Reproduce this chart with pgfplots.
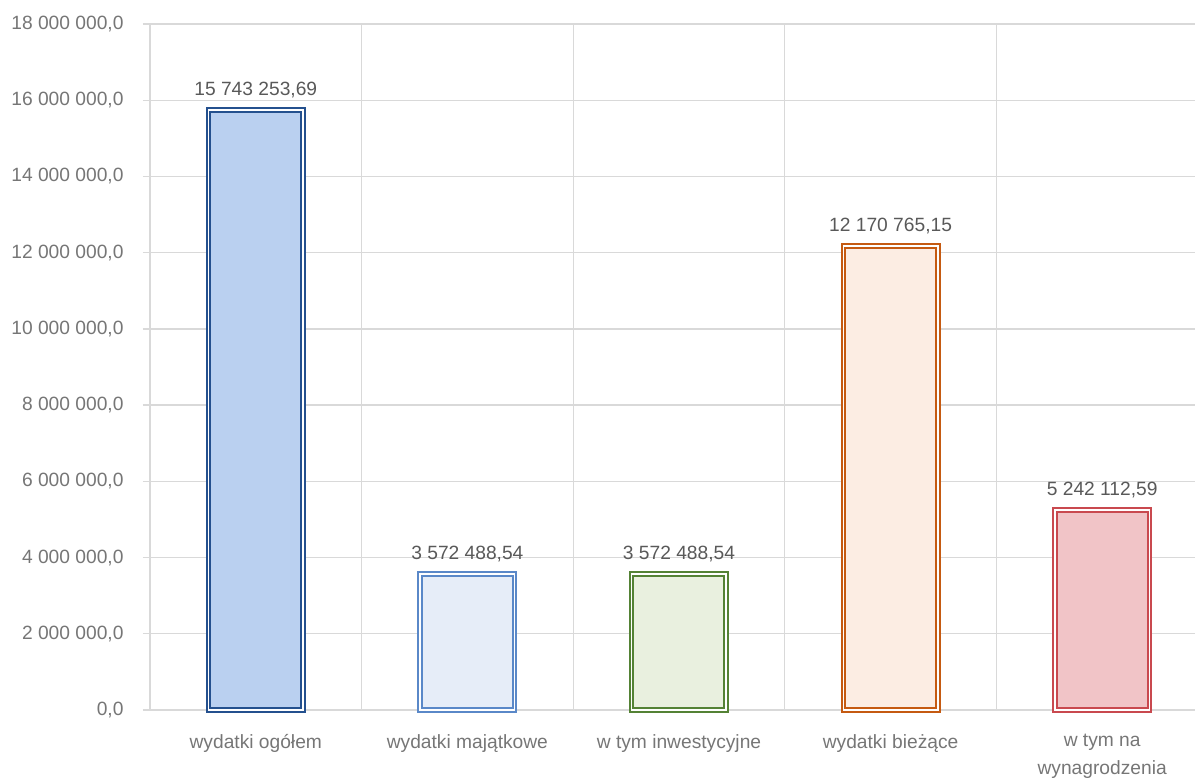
\documentclass[border=0pt]{standalone}
\usepackage{pgfplots}
\pgfplotsset{compat=1.18}
\usepackage{fontspec}
\setmainfont{Liberation Sans}
\definecolor{txt}{HTML}{595959}
\definecolor{tck}{HTML}{767676}
\definecolor{grd}{HTML}{D9D9D9}
\definecolor{c1}{HTML}{24508E}
\definecolor{f1}{HTML}{BAD0F0}
\definecolor{c2}{HTML}{5A88C8}
\definecolor{f2}{HTML}{E6EDF8}
\definecolor{c3}{HTML}{548235}
\definecolor{f3}{HTML}{E9F0DF}
\definecolor{c4}{HTML}{C55A11}
\definecolor{f4}{HTML}{FCEDE3}
\definecolor{c5}{HTML}{C9494F}
\definecolor{f5}{HTML}{F1C4C7}
\newcommand\lab{\fontsize{19.2bp}{28bp}\selectfont}
\begin{document}
\begin{tikzpicture}
\begin{axis}[
  scale only axis, width=1058bp, height=686bp,
  xmin=-0.5, xmax=4.5, ymin=0, ymax=18000000,
  axis lines=left, axis line style={-, draw=grd, line width=1.3bp},
  xtick={0,1,2,3,4},
  xticklabels={wydatki ogółem, wydatki majątkowe, w tym inwestycyjne, wydatki bieżące, {w tym na\\wynagrodzenia}},
  major x tick style={draw=none},
  minor xtick={0.5,1.5,2.5,3.5},
  xminorgrids, minor x grid style={draw=grd, line width=1.3bp},
  minor x tick style={draw=none},
  ytick={0,2000000,4000000,6000000,8000000,10000000,12000000,14000000,16000000,18000000},
  yticklabels={{0,0},{2 000 000,0},{4 000 000,0},{6 000 000,0},{8 000 000,0},{10 000 000,0},{12 000 000,0},{14 000 000,0},{16 000 000,0},{18 000 000,0}},
  scaled y ticks=false,
  ymajorgrids, major y grid style={draw=grd, line width=1.3bp},
  tick align=outside, major tick length=7bp,
  y tick style={draw=grd, line width=1.3bp},
  yticklabel style={font=\lab, text=tck, xshift=-16bp},
  xticklabel style={font=\lab, text=tck, align=center, anchor=north, yshift=-14bp},
  nodes near coords, point meta=explicit symbolic,
  nodes near coords style={font=\lab, text=txt, anchor=south, yshift=8bp},
  clip=false,
]
\addplot[ybar, bar shift=0pt, bar width=94.5bp, fill=f1, draw=c1, line width=2bp, double=white, double distance=1.5bp]
  coordinates {(0,15743253.69) [15 743 253,69]};
\addplot[ybar, bar shift=0pt, bar width=94.5bp, fill=f2, draw=c2, line width=2bp, double=white, double distance=1.5bp]
  coordinates {(1,3572488.54) [3 572 488,54]};
\addplot[ybar, bar shift=0pt, bar width=94.5bp, fill=f3, draw=c3, line width=2bp, double=white, double distance=1.5bp]
  coordinates {(2,3572488.54) [3 572 488,54]};
\addplot[ybar, bar shift=0pt, bar width=94.5bp, fill=f4, draw=c4, line width=2bp, double=white, double distance=1.5bp]
  coordinates {(3,12170765.15) [12 170 765,15]};
\addplot[ybar, bar shift=0pt, bar width=94.5bp, fill=f5, draw=c5, line width=2bp, double=white, double distance=1.5bp]
  coordinates {(4,5242112.59) [5 242 112,59]};
\end{axis}
\pgfresetboundingbox
\useasboundingbox (-150bp,-68bp) rectangle (1045bp,710bp);
\end{tikzpicture}
\end{document}
